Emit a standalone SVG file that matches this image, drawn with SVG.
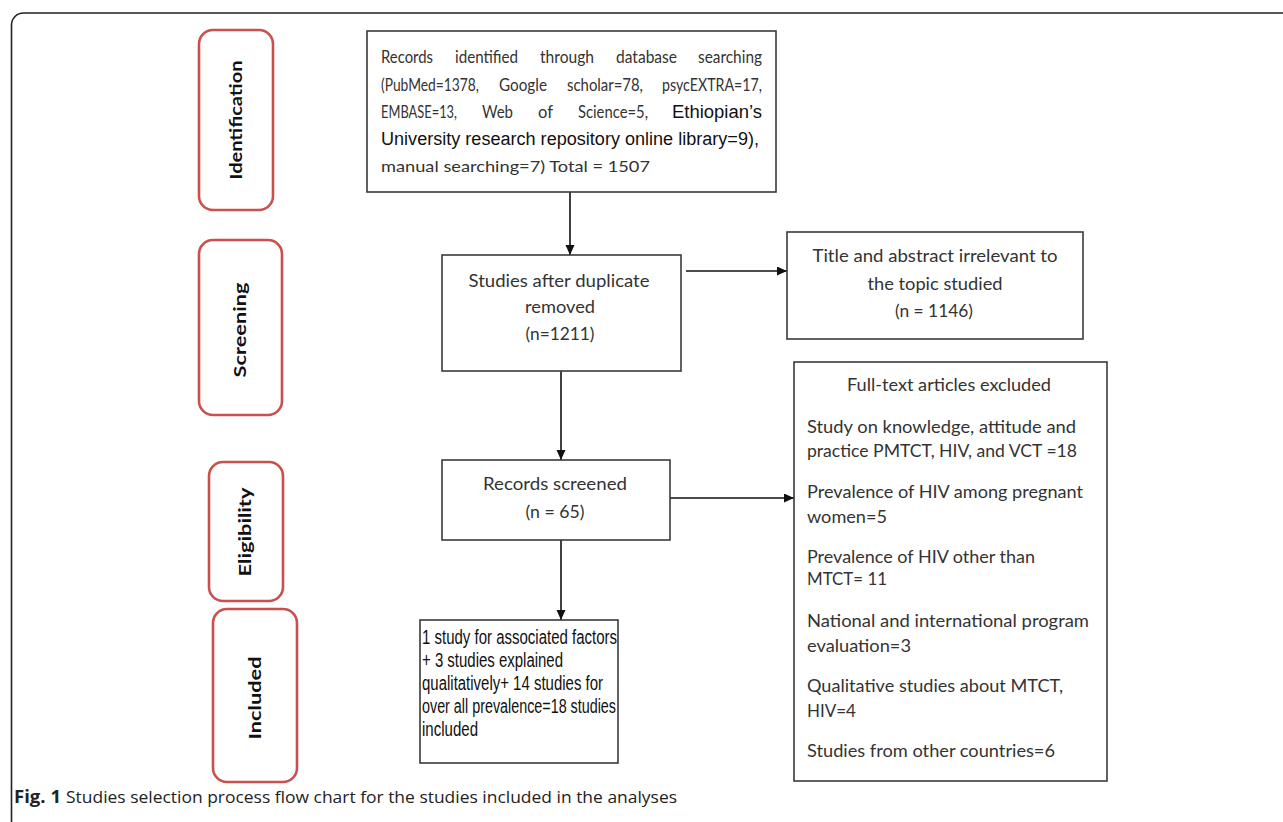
<svg xmlns="http://www.w3.org/2000/svg" width="1283" height="822" viewBox="0 0 1283 822">
<style>
.box{fill:#fff;stroke:#3a3a3a;stroke-width:1.6}
.phase{fill:#fff;stroke:#c9504e;stroke-width:2.6}
.pl{font-family:Lato,"Liberation Sans",sans-serif;font-weight:bold;font-size:17px;fill:#111;text-anchor:middle}
.c{font-family:Lato,"Liberation Sans",sans-serif;font-size:17px;fill:#333}
.cm{font-family:Lato,"Liberation Sans",sans-serif;font-size:17px;fill:#333;text-anchor:middle}
.w{font-family:Lato,"Liberation Sans",sans-serif;font-size:16.5px;fill:#333}
.a{font-family:"Liberation Sans",Arial,sans-serif;font-size:18px;fill:#111}
.cap{font-family:"Open Sans","Liberation Sans",sans-serif;font-size:17px;fill:#222}
.conn{stroke:#111;stroke-width:1.6;fill:none;marker-end:url(#ah)}
</style>
<defs>
<marker id="ah" markerWidth="10" markerHeight="10" refX="10" refY="4.5" orient="auto" markerUnits="userSpaceOnUse">
<path d="M0,0 L10,4.5 L0,9 Z" fill="#111"/>
</marker>
</defs>
<rect width="1283" height="822" fill="#fff"/>
<path d="M11.5,822 V25 A12,12 0 0 1 23.5,13 H1283" fill="none" stroke="#222" stroke-width="1.6"/>

<g id="phase-identification">
<rect class="phase" x="199" y="30" width="74" height="180" rx="14"/>
<text class="pl" transform="translate(242,120) rotate(-90)" textLength="119" lengthAdjust="spacingAndGlyphs">Identification</text>
</g>
<g id="phase-screening">
<rect class="phase" x="199" y="240" width="83" height="175" rx="14"/>
<text class="pl" transform="translate(246,330) rotate(-90)" textLength="95" lengthAdjust="spacingAndGlyphs">Screening</text>
</g>
<g id="phase-eligibility">
<rect class="phase" x="209" y="462" width="74" height="139" rx="14"/>
<text class="pl" transform="translate(251,532) rotate(-90)" textLength="89" lengthAdjust="spacingAndGlyphs">Eligibility</text>
</g>
<g id="phase-included">
<rect class="phase" x="213" y="609" width="84" height="173" rx="14"/>
<text class="pl" transform="translate(261,698) rotate(-90)" textLength="83" lengthAdjust="spacingAndGlyphs">Included</text>
</g>

<g id="connectors">
<line class="conn" x1="570" y1="192" x2="570" y2="255"/>
<line class="conn" x1="686" y1="271" x2="787" y2="271"/>
<line class="conn" x1="561" y1="371" x2="561" y2="460"/>
<line class="conn" x1="670" y1="498" x2="794" y2="498"/>
<line class="conn" x1="561" y1="540" x2="561" y2="620"/>
</g>

<g id="records-identified">
<rect class="box" x="367" y="31" width="409" height="161"/>
<text class="w" x="381" y="63" textLength="52" lengthAdjust="spacingAndGlyphs">Records</text>
<text class="w" x="455" y="63" textLength="63" lengthAdjust="spacingAndGlyphs">identified</text>
<text class="w" x="540" y="63" textLength="54" lengthAdjust="spacingAndGlyphs">through</text>
<text class="w" x="616" y="63" textLength="61" lengthAdjust="spacingAndGlyphs">database</text>
<text class="w" x="698" y="63" textLength="64" lengthAdjust="spacingAndGlyphs">searching</text>
<text class="w" x="381" y="91" textLength="98" lengthAdjust="spacingAndGlyphs">(PubMed=1378,</text>
<text class="w" x="499" y="91" textLength="48" lengthAdjust="spacingAndGlyphs">Google</text>
<text class="w" x="567" y="91" textLength="76" lengthAdjust="spacingAndGlyphs">scholar=78,</text>
<text class="w" x="662" y="91" textLength="100" lengthAdjust="spacingAndGlyphs">psycEXTRA=17,</text>
<text class="w" x="381" y="118" textLength="76" lengthAdjust="spacingAndGlyphs">EMBASE=13,</text>
<text class="w" x="482" y="118" textLength="31" lengthAdjust="spacingAndGlyphs">Web</text>
<text class="w" x="538" y="118" textLength="15" lengthAdjust="spacingAndGlyphs">of</text>
<text class="w" x="578" y="118" textLength="70" lengthAdjust="spacingAndGlyphs">Science=5,</text>
<text class="a" x="672" y="118" textLength="90" lengthAdjust="spacingAndGlyphs">Ethiopian’s</text>
<text class="a" x="381" y="145" textLength="378" lengthAdjust="spacingAndGlyphs">University research repository online library=9),</text>
<text class="c" x="381" y="172" style="font-size:15px" textLength="269" lengthAdjust="spacingAndGlyphs">manual searching=7) Total = 1507</text>
</g>

<g id="studies-after-duplicate">
<rect class="box" x="442" y="255" width="239" height="116"/>
<text class="cm" x="559" y="287" textLength="181" lengthAdjust="spacingAndGlyphs">Studies after duplicate</text>
<text class="cm" x="560" y="313" textLength="70" lengthAdjust="spacingAndGlyphs">removed</text>
<text class="cm" x="560" y="340" textLength="69" lengthAdjust="spacingAndGlyphs">(n=1211)</text>
</g>

<g id="title-abstract-irrelevant">
<rect class="box" x="787" y="232" width="296" height="107"/>
<text class="cm" x="935" y="262" textLength="245" lengthAdjust="spacingAndGlyphs">Title and abstract irrelevant to</text>
<text class="cm" x="935" y="290" textLength="135" lengthAdjust="spacingAndGlyphs">the topic studied</text>
<text class="cm" x="934" y="317" textLength="78" lengthAdjust="spacingAndGlyphs">(n = 1146)</text>
</g>

<g id="records-screened">
<rect class="box" x="442" y="460" width="228" height="80"/>
<text class="cm" x="555" y="490" textLength="144" lengthAdjust="spacingAndGlyphs">Records screened</text>
<text class="cm" x="555" y="518" textLength="59" lengthAdjust="spacingAndGlyphs">(n = 65)</text>
</g>

<g id="full-text-excluded">
<rect class="box" x="794" y="362" width="313" height="419"/>
<text class="cm" x="949" y="391" textLength="204" lengthAdjust="spacingAndGlyphs">Full-text articles excluded</text>
<text class="c" x="807" y="433" textLength="269" lengthAdjust="spacingAndGlyphs">Study on knowledge, attitude and</text>
<text class="c" x="807" y="457" textLength="270" lengthAdjust="spacingAndGlyphs">practice PMTCT, HIV, and VCT =18</text>
<text class="c" x="807" y="498" textLength="276" lengthAdjust="spacingAndGlyphs">Prevalence of HIV among pregnant</text>
<text class="c" x="807" y="523" textLength="80" lengthAdjust="spacingAndGlyphs">women=5</text>
<text class="c" x="807" y="563" textLength="228" lengthAdjust="spacingAndGlyphs">Prevalence of HIV other than</text>
<text class="c" x="807" y="585" textLength="80" lengthAdjust="spacingAndGlyphs">MTCT= 11</text>
<text class="c" x="807" y="627" textLength="282" lengthAdjust="spacingAndGlyphs">National and international program</text>
<text class="c" x="807" y="652" textLength="104" lengthAdjust="spacingAndGlyphs">evaluation=3</text>
<text class="c" x="807" y="692" textLength="256" lengthAdjust="spacingAndGlyphs">Qualitative studies about MTCT,</text>
<text class="c" x="807" y="717" textLength="49" lengthAdjust="spacingAndGlyphs">HIV=4</text>
<text class="c" x="807" y="757" textLength="248" lengthAdjust="spacingAndGlyphs">Studies from other countries=6</text>
</g>

<g id="included-studies">
<rect class="box" x="420" y="620" width="198" height="143"/>
<text class="a" x="422" y="644" style="font-size:19.5px" textLength="195" lengthAdjust="spacingAndGlyphs">1 study for associated factors</text>
<text class="a" x="422" y="667" style="font-size:19.5px" textLength="141" lengthAdjust="spacingAndGlyphs">+ 3 studies explained</text>
<text class="a" x="422" y="690" style="font-size:19.5px" textLength="181" lengthAdjust="spacingAndGlyphs">qualitatively+ 14 studies for</text>
<text class="a" x="422" y="713" style="font-size:19.5px" textLength="194" lengthAdjust="spacingAndGlyphs">over all prevalence=18 studies</text>
<text class="a" x="422" y="736" style="font-size:19.5px" textLength="56" lengthAdjust="spacingAndGlyphs">included</text>
</g>

<g id="caption">
<text class="cap" x="14" y="803"><tspan font-weight="bold" textLength="47" lengthAdjust="spacingAndGlyphs">Fig. 1</tspan></text>
<text class="cap" x="66" y="803" textLength="611" lengthAdjust="spacingAndGlyphs">Studies selection process flow chart for the studies included in the analyses</text>
</g>
</svg>
